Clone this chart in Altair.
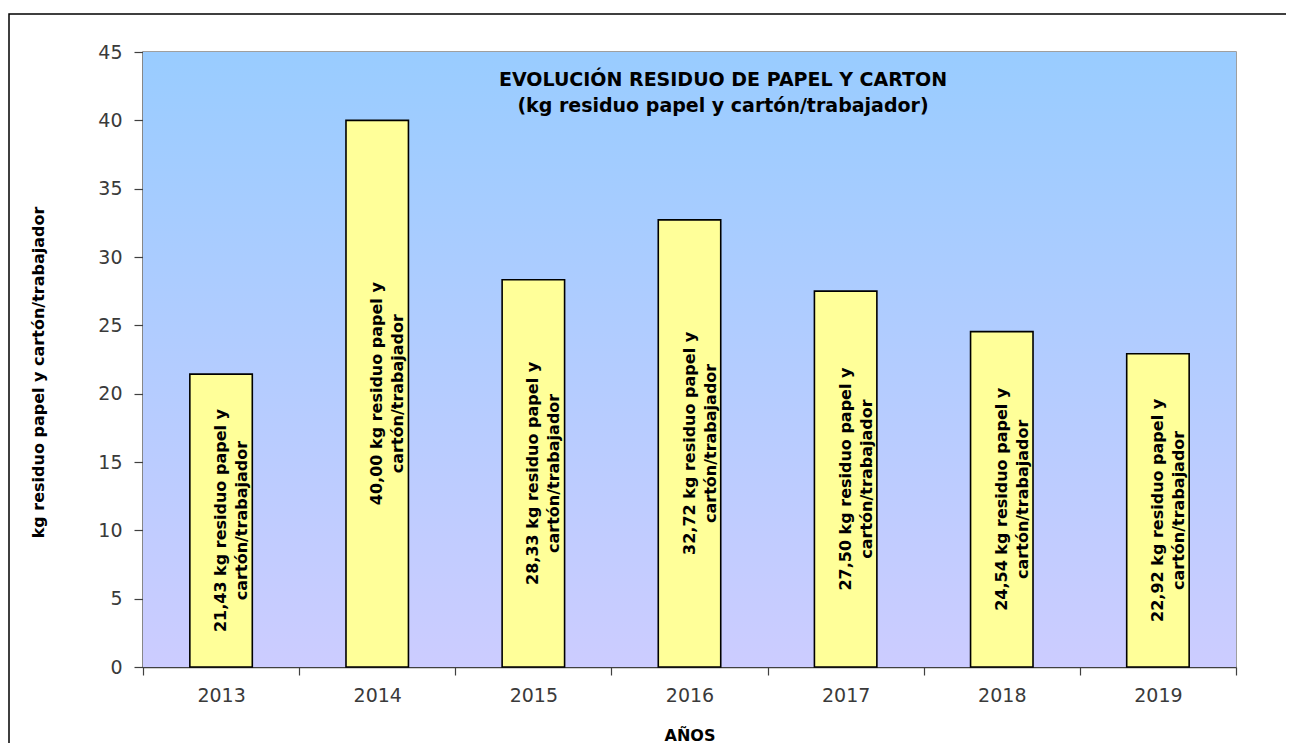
import altair as alt
import pandas as pd

years = ["2013", "2014", "2015", "2016", "2017", "2018", "2019"]
values = [21.43, 40.00, 28.33, 32.72, 27.50, 24.54, 22.92]
label_line1 = [
    "21,43 kg residuo papel y",
    "40,00 kg residuo papel y",
    "28,33 kg  residuo papel y",
    "32,72 kg  residuo papel y",
    "27,50 kg  residuo papel y",
    "24,54 kg residuo papel y",
    "22,92 kg residuo papel y",
]
label_line2 = ["cartón/trabajador"] * 7
y_ticks = [0, 5, 10, 15, 20, 25, 30, 35, 40, 45]
title_lines = ["EVOLUCIÓN RESIDUO DE PAPEL Y CARTON", "(kg residuo papel y cartón/trabajador)"]
x_title = "AÑOS"
y_title = "kg  residuo papel y cartón/trabajador"

df = pd.DataFrame({
    "year": years,
    "value": values,
    "label": [a + "\n" + b for a, b in zip(label_line1, label_line2)],
})

W, H = 1093, 615
BOLD = "DejaVu Sans"
REG = "DejaVu Sans"

x_enc = alt.X(
    "year:N",
    scale=alt.Scale(paddingInner=0, paddingOuter=0),
    axis=alt.Axis(
        title=x_title, labelAngle=0, tickBand="extent", tickSize=8,
        labelFontSize=19, labelFont=REG, labelColor="#3a3a3a", labelPadding=11,
        domainColor="#404040", tickColor="#404040", domainWidth=1.5, tickWidth=1.2,
        titleFont=BOLD, titleFontSize=16, titleFontWeight="bold", titleColor="black",
        titleY=68, titleBaseline="middle",
    ),
)
y_scale = alt.Scale(domain=[0, 45], nice=False)
y_axis = alt.Axis(
    values=y_ticks, title=y_title, grid=False, tickSize=9,
    labelFontSize=19, labelFont=REG, labelColor="#3a3a3a", labelPadding=12,
    domainColor="#404040", tickColor="#404040", domainWidth=1.5, tickWidth=1.2,
    titleFont=BOLD, titleFontSize=16, titleFontWeight="bold", titleColor="black",
    titleX=-105, titleY=320, titleBaseline="middle", titleAlign="center",
)

one = alt.Data(values=[{}])

bg = alt.Chart(one).mark_rect(
    fill={"gradient": "linear", "x1": 0, "x2": 0, "y1": 0, "y2": 1,
          "stops": [{"offset": 0, "color": "#99CCFF"}, {"offset": 1, "color": "#CCCCFF"}]},
).encode(x=alt.value(0), x2=alt.value(W), y=alt.value(0), y2=alt.value(H))

base = alt.Chart(df)

bars = base.mark_bar(
    width=alt.RelativeBandSize(0.4), fill="#FFFF99", stroke="black", strokeWidth=1.6,
).encode(
    x=x_enc,
    y=alt.Y("value:Q", scale=y_scale, axis=y_axis),
)

labels = base.transform_calculate(mid="datum.value / 2").mark_text(
    angle=270, align="center", baseline="middle", lineBreak="\n", lineHeight=21,
    font=BOLD, fontSize=16, fontWeight="bold", color="black",
).encode(
    x=alt.X("year:N"),
    y=alt.Y("mid:Q", scale=y_scale),
    text="label:N",
)

t1 = alt.Chart(one).mark_text(
    font=BOLD, fontSize=19, fontWeight="bold", color="black", align="center", baseline="middle",
).encode(x=alt.value(580), y=alt.value(28), text=alt.value(title_lines[0]))
t2 = alt.Chart(one).mark_text(
    font=BOLD, fontSize=19, fontWeight="bold", color="black", align="center", baseline="middle",
).encode(x=alt.value(580), y=alt.value(54), text=alt.value(title_lines[1]))

border = alt.Chart(one).mark_rect(fill=None, stroke="black", strokeWidth=1.5).encode(
    x=alt.value(-134), x2=alt.value(1200), y=alt.value(-38), y2=alt.value(720)
)

chart = alt.layer(bg, bars, labels, t1, t2, border).properties(
    width=W, height=H,
    padding={"left": 135, "top": 44, "right": 50, "bottom": 76},
    autosize=alt.AutoSizeParams(type="none"),
    background="white",
).configure_view(stroke="#808080", strokeWidth=1.5)

chart.save("out.html", embed_options={"renderer": "svg", "actions": False})
